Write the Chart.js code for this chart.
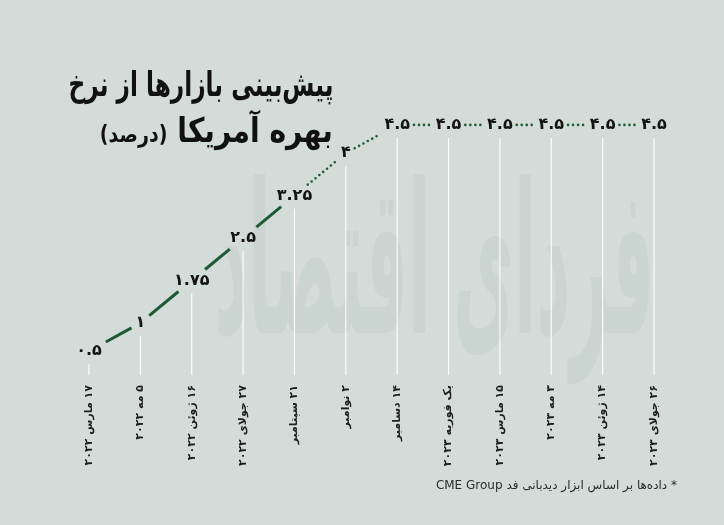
<!DOCTYPE html>
<html lang="fa">
<head>
<meta charset="utf-8">
<script src="https://cdn.jsdelivr.net/npm/chart.js@4"></script>
<style>
    html, body { margin: 0; padding: 0; background: #d3dcd8; }
    #wrap { position: relative; width: 724px; height: 525px; overflow: hidden; font-family: "DejaVu Sans", sans-serif; }
    #rateChart { position: absolute; left: 0; top: 0; }
    .mark {
        position: absolute; right: 70px; top: 118px; display: inline-block;
        font: bold 110px/150px "DejaVu Sans", sans-serif; color: #cad4d0;
        transform-origin: right top; white-space: nowrap;
    }
    .title {
        position: absolute; right: 391px; top: 61px; margin: 0; text-align: right;
        font: bold 34px/46px "DejaVu Sans", sans-serif; color: #111; white-space: nowrap;
    }
    .title span { display: inline-block; transform-origin: right center; }
    .title small { font-size: 23px; }
    .note {
        position: absolute; right: 47px; top: 476px; margin: 0;
        font: 12px/18px "DejaVu Sans", sans-serif; color: #2b2b2b; white-space: nowrap;
    }
</style>
</head>
<body dir="rtl">
<div id="wrap">
    <div class="mark" id="mark">فردای اقتصاد</div>
    <canvas id="rateChart" width="724" height="525"></canvas>
    <h1 class="title"><span id="t1">پیش‌بینی بازارها از نرخ</span><br><span id="t2">بهره آمریکا <small>(درصد)</small></span></h1>
    <p class="note">* داده‌ها بر اساس ابزار دیدبانی فد CME Group</p>
</div>
<script>
// data
const categories = [
    '۱۷ مارس ۲۰۲۲', '۵ مه ۲۰۲۲', '۱۶ ژوئن ۲۰۲۲', '۲۷ جولای ۲۰۲۲',
    '۲۱ سپتامبر', '۲ نوامبر', '۱۴ دسامبر', 'یک فوریه ۲۰۲۳',
    '۱۵ مارس ۲۰۲۳', '۳ مه ۲۰۲۳', '۱۴ ژوئن ۲۰۲۳', '۲۶ جولای ۲۰۲۳'
];
const rates = [0.5, 1, 1.75, 2.5, 3.25, 4, 4.5, 4.5, 4.5, 4.5, 4.5, 4.5];
const actualPoints = 5; // solid line up to here, dotted (forecast) after

const faDigits = '۰۱۲۳۴۵۶۷۸۹';
function faNum(v) {
    return String(v).replace(/\d/g, d => faDigits[d]);
}

// DejaVu's Arabic is wide, squeeze the heading to the original width
function squeeze(el, width, sy) {
    const w = el.getBoundingClientRect().width;
    el.style.transform = 'scale(' + (width / w) + ',' + (sy || 1) + ')';
}
squeeze(document.getElementById('t1'), 265);
squeeze(document.getElementById('t2'), 233);
squeeze(document.getElementById('mark'), 440, 1.9);

const labelFont = 'bold 16px "DejaVu Sans", sans-serif';

// drop lines, gapped connector and value labels
const rateLines = {
    id: 'rateLines',
    afterDatasetsDraw(chart) {
        const ctx = chart.ctx;
        const pts = chart.getDatasetMeta(0).data;
        const bottom = chart.chartArea.bottom;
        ctx.save();
        ctx.font = labelFont;
        const widths = rates.map(v => ctx.measureText(faNum(v)).width);

        ctx.strokeStyle = 'rgba(255,255,255,0.9)';
        ctx.lineWidth = 1.2;
        pts.forEach(p => {
            ctx.beginPath();
            ctx.moveTo(p.x, p.y + 13);
            ctx.lineTo(p.x, bottom);
            ctx.stroke();
        });

        ctx.strokeStyle = '#1f5a35';
        for (let i = 0; i < pts.length - 1; i++) {
            const a = pts[i], b = pts[i + 1];
            const dx = b.x - a.x, dy = b.y - a.y;
            const cut = w => Math.min((w / 2 + 4) / Math.abs(dx), dy ? 11 / Math.abs(dy) : Infinity);
            const t0 = cut(widths[i]);
            const t1 = 1 - cut(widths[i + 1]);
            if (i < actualPoints - 1) {
                ctx.setLineDash([]);
                ctx.lineWidth = 3;
                ctx.lineCap = 'butt';
            } else {
                ctx.setLineDash([0, 5]);
                ctx.lineWidth = 2.6;
                ctx.lineCap = 'round';
            }
            ctx.beginPath();
            ctx.moveTo(a.x + dx * t0, a.y + dy * t0);
            ctx.lineTo(a.x + dx * t1, a.y + dy * t1);
            ctx.stroke();
        }

        ctx.setLineDash([]);
        ctx.fillStyle = '#141414';
        ctx.textAlign = 'center';
        ctx.textBaseline = 'middle';
        pts.forEach((p, i) => ctx.fillText(faNum(rates[i]), p.x, p.y));
        ctx.restore();
    }
};

new Chart(document.getElementById('rateChart'), {
    type: 'line',
    data: {
        labels: categories,
        datasets: [{
            data: rates,
            showLine: false,
            pointRadius: 0,
            pointHoverRadius: 0
        }]
    },
    options: {
        responsive: false,
        animation: false,
        layout: { padding: { left: 89, right: 70, top: 40, bottom: 50 } },
        plugins: {
            legend: { display: false },
            tooltip: { enabled: false }
        },
        scales: {
            x: {
                offset: false,
                grid: { display: false, drawTicks: false },
                border: { display: false },
                ticks: {
                    autoSkip: false,
                    minRotation: 90,
                    maxRotation: 90,
                    padding: 10,
                    color: '#1e1e1e',
                    font: { family: '"DejaVu Sans", sans-serif', size: 11, weight: 'bold' }
                },
                afterFit: scale => { scale.height = 100; }
            },
            y: {
                display: false,
                min: 0.08,
                max: 6
            }
        }
    },
    plugins: [rateLines]
});
</script>
</body>
</html>
